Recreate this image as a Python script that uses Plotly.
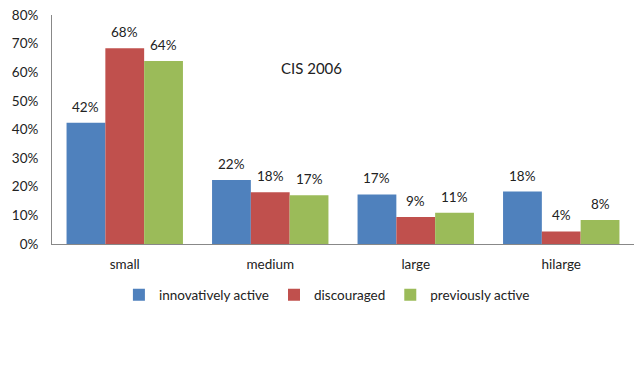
import plotly.graph_objects as go

categories = ["small", "medium", "large", "hilarge"]
innovatively_active = [0.424, 0.224, 0.173, 0.183]
discouraged = [0.684, 0.181, 0.094, 0.044]
previously_active = [0.639, 0.170, 0.109, 0.084]
series_names = ["innovatively active", "discouraged", "previously active"]
colors = ["#4F81BD", "#C0504D", "#9BBB59"]

font_family = "Lato, 'Open Sans', Arial, sans-serif"
FS = 13.5

W, H = 641, 370
ML, MR, MT, MB = 52, 7, 10, 126
BARGAP = 0.2

fig = go.Figure()
all_series = [innovatively_active, discouraged, previously_active]
for name, vals, col in zip(series_names, all_series, colors):
    fig.add_trace(go.Bar(
        x=categories, y=vals, name=name,
        marker=dict(color=col, line=dict(width=0)),
    ))

# value labels above each bar
plot_w = W - ML - MR
cat_w = plot_w / len(categories)
bar_w = cat_w * (1 - BARGAP) / len(all_series)
for i, vals in enumerate(all_series):
    for c, v in zip(categories, vals):
        fig.add_annotation(x=c, y=v, xref="x", yref="y", text=f"{v:.0%}",
                           showarrow=False, yanchor="bottom",
                           xshift=(i - 1) * bar_w, yshift=6,
                           font=dict(size=FS, color="#222222"))

fig.update_layout(
    width=W, height=H,
    margin=dict(l=ML, r=MR, t=MT, b=MB),
    paper_bgcolor="white", plot_bgcolor="white",
    barmode="group", bargap=BARGAP, bargroupgap=0,
    font=dict(family=font_family, size=FS, color="#222222"),
    showlegend=True,
    legend=dict(orientation="h", x=0.51, xanchor="center", xref="container",
                y=1 - 295 / H, yanchor="middle", yref="container",
                font=dict(size=FS), itemwidth=30, tracegroupgap=0),
)
fig.add_annotation(text="CIS 2006", xref="paper", yref="paper",
                   x=(311 - ML) / plot_w, y=(244 - 53) / 234,
                   showarrow=False, font=dict(size=15, color="#222222"))

fig.update_yaxes(range=[0, 0.8], dtick=0.1, tickformat=".0%", showgrid=False,
                 showline=True, linecolor="#888888", linewidth=1, zeroline=False,
                 ticks="", ticklabelstandoff=10, tickfont=dict(size=FS))
fig.update_xaxes(showline=True, linecolor="#888888", linewidth=1, ticks="",
                 ticklabelstandoff=8, tickfont=dict(size=FS))

fig.write_html("out.html")
